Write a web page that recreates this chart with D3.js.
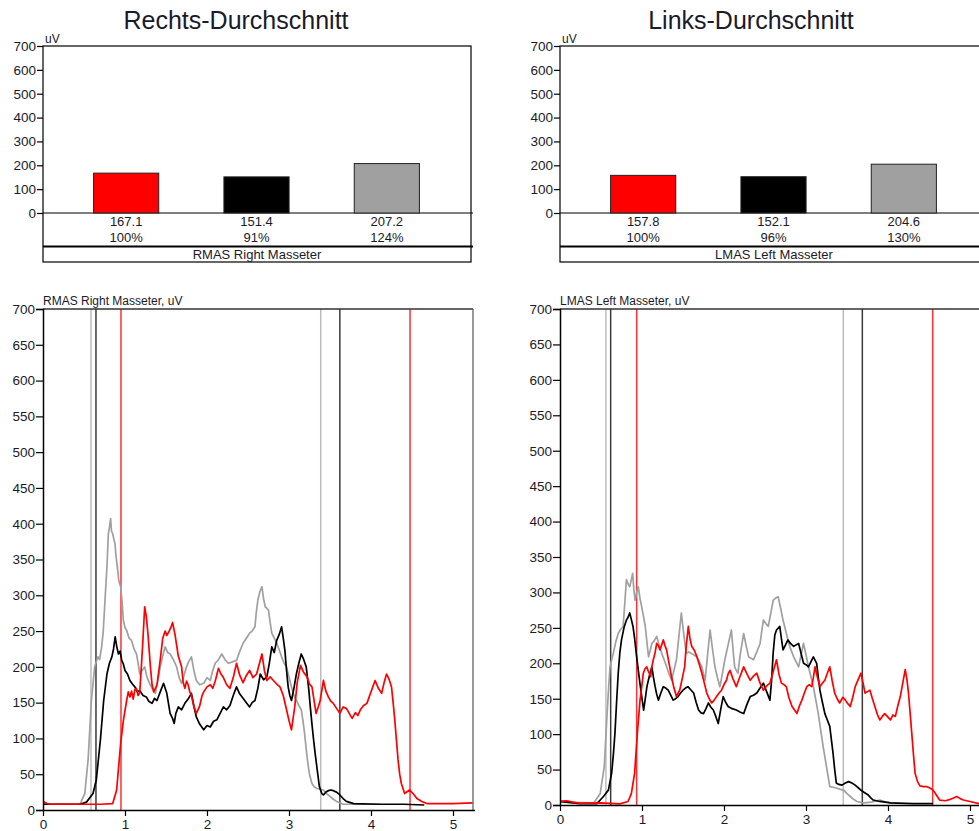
<!DOCTYPE html>
<html>
<head>
<meta charset="utf-8">
<script src="https://cdn.jsdelivr.net/npm/d3@7"></script>
<style>
  html, body { margin: 0; padding: 0; background: #fff; }
  svg { display: block; }
  text { font-family: "Liberation Sans", Arial, sans-serif; fill: #1a1a2a; }
</style>
</head>
<body>
<svg id="chart" width="979" height="831"></svg>
<script>
// ---------------- DATA ----------------
const barCategories = ["Rot", "Schwarz", "Grau"];
const rechtsBarValues = [167.1, 151.4, 207.2];
const rechtsBarPercents = ["100%", "91%", "124%"];
const linksBarValues = [157.8, 152.1, 204.6];
const linksBarPercents = ["100%", "96%", "130%"];
const barYTicks = [0, 100, 200, 300, 400, 500, 600, 700];
const lineYTicks = [0, 50, 100, 150, 200, 250, 300, 350, 400, 450, 500, 550, 600, 650, 700];
const lineXTicks = [0, 1, 2, 3, 4, 5];

// marker positions (s)
const rechtsMarkersGray = [0.585, 3.387];
const rechtsMarkersBlack = [0.646, 3.62];
const rechtsMarkersRed = [0.951, 4.476];
const linksMarkersGray = [0.56, 3.455];
const linksMarkersBlack = [0.618, 3.687];
const linksMarkersRed = [0.935, 4.545];

// traces [time s, uV]
const rechtsRed = [[0,12],[0.05,9],[0.1,8],[0.3,8],[0.5,8],[0.7,8],[0.85,9],[0.898,28],[0.947,93],[0.98,125],[1.02,153],[1.04,165],[1.06,158],[1.08,166],[1.10,155],[1.12,168],[1.14,170],[1.16,160],[1.18,164],[1.215,230],[1.24,284],[1.26,270],[1.28,246],[1.31,200],[1.33,175],[1.35,165],[1.37,170],[1.39,175],[1.43,210],[1.46,240],[1.49,250],[1.51,244],[1.53,248],[1.56,255],[1.58,262],[1.61,245],[1.65,215],[1.69,200],[1.71,178],[1.73,170],[1.75,180],[1.77,175],[1.79,165],[1.81,160],[1.84,145],[1.87,135],[1.89,140],[1.91,145],[1.94,160],[1.96,165],[2.0,172],[2.04,175],[2.07,170],[2.10,180],[2.14,198],[2.17,190],[2.20,185],[2.24,175],[2.28,170],[2.32,185],[2.36,205],[2.40,188],[2.44,178],[2.48,188],[2.52,195],[2.56,185],[2.605,190],[2.64,205],[2.67,218],[2.70,195],[2.73,181],[2.77,186],[2.81,181],[2.85,176],[2.89,172],[2.93,160],[2.97,140],[3.0,125],[3.03,112],[3.07,144],[3.10,178],[3.14,202],[3.18,192],[3.22,186],[3.25,176],[3.28,172],[3.31,150],[3.33,135],[3.36,145],[3.38,153],[3.42,181],[3.45,166],[3.48,158],[3.51,152],[3.54,149],[3.58,142],[3.62,135],[3.66,144],[3.70,142],[3.74,134],[3.77,128],[3.81,136],[3.84,132],[3.87,140],[3.91,146],[3.95,149],[4.0,165],[4.05,181],[4.09,170],[4.13,163],[4.16,178],[4.19,190],[4.22,183],[4.25,172],[4.27,150],[4.29,126],[4.31,98],[4.33,70],[4.35,50],[4.37,37],[4.41,23],[4.47,28],[4.52,22],[4.56,16],[4.62,12],[4.68,9],[4.8,9],[5.0,9],[5.24,10]];
const rechtsBlack = [[0,8],[0.45,8],[0.53,11],[0.61,23],[0.65,42],[0.70,98],[0.74,153],[0.78,190],[0.81,205],[0.84,214],[0.86,225],[0.88,242],[0.90,228],[0.92,218],[0.94,222],[0.96,209],[0.98,204],[1.0,195],[1.03,190],[1.06,181],[1.09,176],[1.12,172],[1.15,165],[1.18,167],[1.22,160],[1.26,158],[1.29,152],[1.33,149],[1.36,156],[1.39,153],[1.43,165],[1.47,177],[1.51,163],[1.55,135],[1.58,128],[1.60,121],[1.62,135],[1.65,144],[1.69,140],[1.73,149],[1.77,155],[1.81,163],[1.84,145],[1.87,130],[1.91,120],[1.96,112],[2.0,118],[2.04,116],[2.08,124],[2.12,126],[2.16,135],[2.20,144],[2.24,140],[2.28,146],[2.32,160],[2.36,172],[2.40,162],[2.44,156],[2.48,150],[2.52,144],[2.55,150],[2.585,153],[2.62,170],[2.65,190],[2.69,182],[2.73,186],[2.76,205],[2.79,228],[2.82,220],[2.85,237],[2.88,245],[2.91,256],[2.93,240],[2.95,223],[2.97,195],[2.99,172],[3.01,160],[3.03,153],[3.06,170],[3.09,190],[3.12,205],[3.15,218],[3.18,210],[3.21,200],[3.24,170],[3.26,144],[3.28,120],[3.30,98],[3.32,78],[3.34,60],[3.37,33],[3.40,23],[3.42,21],[3.45,25],[3.48,27],[3.51,28],[3.54,27],[3.58,25],[3.62,21],[3.66,16],[3.70,12],[3.79,9],[4.1,8],[4.4,8],[4.65,7]];
const rechtsGray = [[0,8],[0.45,8],[0.51,23],[0.55,70],[0.59,153],[0.63,200],[0.67,214],[0.69,210],[0.715,228],[0.735,250],[0.756,293],[0.78,340],[0.797,386],[0.81,395],[0.825,407],[0.835,390],[0.85,386],[0.865,378],[0.878,372],[0.89,355],[0.906,340],[0.925,320],[0.947,312],[0.965,290],[0.98,265],[1.0,255],[1.02,251],[1.05,240],[1.08,237],[1.11,225],[1.14,218],[1.16,205],[1.18,190],[1.21,195],[1.24,200],[1.27,185],[1.30,177],[1.33,170],[1.37,163],[1.40,180],[1.43,200],[1.46,215],[1.49,228],[1.52,220],[1.55,218],[1.59,210],[1.63,200],[1.66,185],[1.69,177],[1.72,188],[1.75,200],[1.78,208],[1.81,214],[1.84,195],[1.87,181],[1.91,175],[1.96,177],[2.0,185],[2.04,181],[2.07,195],[2.10,205],[2.14,210],[2.18,218],[2.22,210],[2.26,205],[2.31,207],[2.36,209],[2.40,222],[2.44,233],[2.48,240],[2.52,247],[2.55,250],[2.585,256],[2.60,275],[2.62,293],[2.645,305],[2.67,312],[2.69,295],[2.71,284],[2.73,282],[2.75,279],[2.77,262],[2.79,247],[2.82,240],[2.85,233],[2.88,224],[2.91,214],[2.94,205],[2.97,200],[3.0,186],[3.03,172],[3.06,160],[3.09,153],[3.12,146],[3.15,140],[3.17,125],[3.19,107],[3.21,85],[3.23,65],[3.25,50],[3.28,37],[3.31,32],[3.34,30],[3.38,29],[3.42,28],[3.46,23],[3.50,19],[3.54,15],[3.58,12],[3.62,10],[3.66,8],[4.11,8]];

const linksRed = [[0,5],[0.08,6],[0.16,4],[0.24,2.5],[0.49,3],[0.73,1.5],[0.83,5],[0.87,16],[0.91,45],[0.943,101],[0.976,148],[1.0,170],[1.016,186],[1.035,192],[1.057,195],[1.08,188],[1.106,181],[1.12,195],[1.138,205],[1.16,215],[1.179,228],[1.20,225],[1.22,219],[1.24,226],[1.26,233],[1.28,225],[1.30,219],[1.33,200],[1.36,181],[1.39,165],[1.42,153],[1.44,158],[1.46,162],[1.49,178],[1.52,195],[1.54,225],[1.565,252],[1.585,235],[1.606,224],[1.64,218],[1.67,209],[1.70,198],[1.73,186],[1.76,172],[1.79,158],[1.82,150],[1.85,144],[1.88,148],[1.91,153],[1.94,158],[1.97,162],[2.0,170],[2.03,176],[2.05,185],[2.073,190],[2.11,178],[2.15,167],[2.19,180],[2.24,195],[2.28,185],[2.32,176],[2.36,182],[2.40,186],[2.44,172],[2.48,162],[2.52,168],[2.56,172],[2.60,188],[2.64,205],[2.67,185],[2.70,172],[2.73,170],[2.76,167],[2.79,152],[2.83,139],[2.86,134],[2.89,129],[2.92,140],[2.95,148],[2.98,158],[3.01,167],[3.04,170],[3.07,167],[3.09,180],[3.11,195],[3.14,180],[3.17,167],[3.20,172],[3.23,176],[3.26,186],[3.29,195],[3.32,175],[3.35,158],[3.38,150],[3.41,144],[3.45,152],[3.48,148],[3.51,143],[3.54,139],[3.57,152],[3.60,167],[3.64,178],[3.67,186],[3.70,170],[3.72,158],[3.75,160],[3.78,162],[3.81,150],[3.84,139],[3.87,128],[3.90,120],[3.93,125],[3.96,129],[4.0,124],[4.03,120],[4.06,127],[4.09,125],[4.12,140],[4.15,153],[4.18,172],[4.21,191],[4.23,178],[4.25,158],[4.27,130],[4.29,101],[4.31,72],[4.33,45],[4.36,33],[4.39,27],[4.43,26],[4.47,26],[4.51,24],[4.55,21],[4.59,14],[4.63,7],[4.70,6],[4.76,8],[4.80,10],[4.84,12],[4.88,9],[4.92,7],[5.0,5],[5.11,2],[5.25,2]];
const linksBlack = [[0,5],[0.24,2],[0.45,2],[0.53,12],[0.59,21],[0.63,45],[0.65,70],[0.67,101],[0.69,145],[0.71,186],[0.73,215],[0.75,233],[0.78,250],[0.81,261],[0.83,265],[0.85,271],[0.87,262],[0.89,252],[0.91,235],[0.93,214],[0.955,190],[0.98,167],[1.0,150],[1.02,134],[1.04,150],[1.06,167],[1.09,182],[1.12,195],[1.14,180],[1.16,167],[1.18,156],[1.20,148],[1.23,158],[1.26,167],[1.29,165],[1.32,162],[1.35,155],[1.38,148],[1.41,150],[1.44,153],[1.47,158],[1.50,162],[1.53,165],[1.56,167],[1.60,162],[1.63,158],[1.66,145],[1.69,134],[1.72,130],[1.75,129],[1.78,136],[1.81,144],[1.84,138],[1.87,134],[1.90,125],[1.93,115],[1.96,135],[1.99,153],[2.02,145],[2.05,139],[2.10,136],[2.15,134],[2.20,131],[2.24,129],[2.28,142],[2.32,153],[2.36,155],[2.40,158],[2.44,165],[2.48,172],[2.52,160],[2.56,148],[2.58,175],[2.60,215],[2.62,240],[2.64,247],[2.68,252],[2.70,235],[2.72,219],[2.75,226],[2.78,233],[2.81,228],[2.85,224],[2.88,226],[2.91,228],[2.94,214],[2.97,200],[3.0,198],[3.03,195],[3.06,202],[3.09,209],[3.13,200],[3.15,180],[3.17,162],[3.20,145],[3.23,129],[3.26,120],[3.29,111],[3.31,92],[3.33,73],[3.35,50],[3.37,31],[3.40,29],[3.44,28],[3.48,31],[3.52,33],[3.56,31],[3.60,28],[3.64,24],[3.68,20],[3.72,17],[3.76,14],[3.79,10],[3.82,7],[3.90,5],[4.03,3],[4.3,2],[4.55,2]];
const linksGray = [[0,4],[0.41,3],[0.49,16],[0.54,54],[0.57,120],[0.59,160],[0.61,195],[0.63,205],[0.65,214],[0.68,230],[0.71,242],[0.74,248],[0.77,252],[0.79,285],[0.81,318],[0.83,312],[0.85,308],[0.87,318],[0.886,327],[0.90,305],[0.915,289],[0.935,300],[0.955,308],[0.975,292],[0.996,280],[1.02,265],[1.04,252],[1.06,230],[1.08,209],[1.10,218],[1.12,228],[1.15,232],[1.18,238],[1.21,225],[1.24,214],[1.27,205],[1.30,195],[1.33,185],[1.36,176],[1.39,190],[1.42,205],[1.45,238],[1.48,271],[1.51,240],[1.54,214],[1.57,216],[1.60,214],[1.63,212],[1.67,209],[1.70,202],[1.73,195],[1.75,185],[1.77,176],[1.80,212],[1.83,247],[1.86,220],[1.89,195],[1.92,180],[1.95,167],[1.98,185],[2.01,205],[2.05,226],[2.09,247],[2.11,220],[2.13,195],[2.15,190],[2.17,186],[2.20,214],[2.24,242],[2.27,225],[2.30,209],[2.33,207],[2.36,205],[2.40,216],[2.44,228],[2.46,245],[2.48,261],[2.51,256],[2.54,252],[2.57,270],[2.60,289],[2.63,292],[2.66,294],[2.69,278],[2.72,261],[2.75,247],[2.78,233],[2.81,221],[2.85,209],[2.88,202],[2.91,195],[2.94,212],[2.97,228],[3.0,212],[3.03,195],[3.06,181],[3.09,167],[3.12,148],[3.15,129],[3.18,105],[3.21,82],[3.23,68],[3.25,54],[3.27,40],[3.29,26],[3.33,25],[3.37,24],[3.42,22],[3.46,21],[3.50,16],[3.54,12],[3.58,8],[3.62,5],[3.70,3],[3.80,4],[3.90,7],[3.96,5],[4.03,3],[4.11,3]];

// ---------------- LAYOUT ----------------
const panels = [
  { dx: 0, title: "Rechts-Durchschnitt", titleX: 236, barValues: rechtsBarValues, barPercents: rechtsBarPercents,
    barLabel: "RMAS Right Masseter", lineLabel: "RMAS Right Masseter, uV",
    traces: [[rechtsGray, "#a0a0a0"], [rechtsBlack, "#000"], [rechtsRed, "#ff0000"]],
    markers: [[rechtsMarkersGray, "#bdbdbd"], [rechtsMarkersBlack, "#3a3a3a"], [rechtsMarkersRed, "#ff3030"]],
    lineBottom: 810 },
  { dx: 517, title: "Links-Durchschnitt", titleX: 751, barValues: linksBarValues, barPercents: linksBarPercents,
    barLabel: "LMAS Left Masseter", lineLabel: "LMAS Left Masseter, uV",
    traces: [[linksGray, "#a0a0a0"], [linksBlack, "#000"], [linksRed, "#ff0000"]],
    markers: [[linksMarkersGray, "#bdbdbd"], [linksMarkersBlack, "#3a3a3a"], [linksMarkersRed, "#ff3030"]],
    lineBottom: 805 }
];
const barColors = ["#ff0000", "#000000", "#a0a0a0"];

const svg = d3.select("#chart");

panels.forEach((p, pi) => {
  const L = 43 + p.dx, R = 471 + p.dx;
  const g = svg.append("g");

  // title
  g.append("text").attr("x", p.titleX).attr("y", 29).attr("text-anchor", "middle")
    .style("font-size", "25px").text(p.title);

  // ---- bar chart ----
  const by = d3.scaleLinear().domain([0, 700]).range([213, 46]);
  const bx = d3.scaleBand().domain(barCategories).range([61 + p.dx, 452 + p.dx])
    .paddingInner(0.5).paddingOuter(0.25);

  g.append("rect").attr("x", L).attr("y", 46).attr("width", R - L).attr("height", 216)
    .attr("fill", "none").attr("stroke", "#000").attr("stroke-width", 1.2);
  g.append("line").attr("x1", L).attr("x2", R + 2).attr("y1", 213).attr("y2", 213)
    .attr("stroke", "#000").attr("stroke-width", 1.2);
  g.append("line").attr("x1", L).attr("x2", R + 2).attr("y1", 246.5).attr("y2", 246.5)
    .attr("stroke", "#000").attr("stroke-width", 2);

  const byAxis = d3.axisLeft(by).tickValues(barYTicks).tickSize(6).tickPadding(1);
  const bya = g.append("g").attr("transform", `translate(${L},0)`).call(byAxis);
  bya.select(".domain").remove();
  bya.selectAll("line").attr("stroke", "#000").attr("stroke-width", 1.2);
  bya.selectAll("text").style("font-size", "13.5px").style("font-family", "Liberation Sans, Arial").attr("fill", "#1a1a2a");

  g.append("text").attr("x", L + 2).attr("y", 43).style("font-size", "12px").text("uV");

  g.selectAll(".bar").data(p.barValues).enter().append("rect")
    .attr("x", (d, i) => bx(barCategories[i]))
    .attr("width", bx.bandwidth())
    .attr("y", d => by(d))
    .attr("height", d => by(0) - by(d))
    .attr("fill", (d, i) => barColors[i])
    .attr("stroke", "#222").attr("stroke-width", 1);

  g.selectAll(".bv").data(p.barValues).enter().append("text")
    .attr("x", (d, i) => bx(barCategories[i]) + bx.bandwidth() / 2)
    .attr("y", 226).attr("text-anchor", "middle").style("font-size", "13px")
    .text(d => d.toFixed(1));
  g.selectAll(".bp").data(p.barPercents).enter().append("text")
    .attr("x", (d, i) => bx(barCategories[i]) + bx.bandwidth() / 2)
    .attr("y", 241.5).attr("text-anchor", "middle").style("font-size", "13px")
    .text(d => d);
  g.append("text").attr("x", (L + R) / 2).attr("y", 258.5).attr("text-anchor", "middle")
    .style("font-size", "13px").text(p.barLabel);

  // ---- line chart ----
  const top = 309, bottom = p.lineBottom;
  const LR = 473 + p.dx;
  const x = d3.scaleLinear().domain([0, 5.244]).range([L, LR]);
  const y = d3.scaleLinear().domain([0, 700]).range([bottom, top]);

  const clipId = "clip" + pi;
  svg.append("clipPath").attr("id", clipId).append("rect")
    .attr("x", L).attr("y", top).attr("width", LR - L).attr("height", bottom - top);

  // markers
  const mg = g.append("g").attr("clip-path", `url(#${clipId})`);
  p.markers.forEach(([arr, col]) => {
    mg.selectAll(null).data(arr).enter().append("line")
      .attr("x1", d => x(d)).attr("x2", d => x(d))
      .attr("y1", top).attr("y2", bottom)
      .attr("stroke", col).attr("stroke-width", 1.5);
  });

  // traces
  const line = d3.line().x(d => x(d[0])).y(d => y(d[1]));
  const tg = g.append("g").attr("clip-path", `url(#${clipId})`);
  p.traces.forEach(([arr, col]) => {
    tg.append("path").datum(arr).attr("d", line)
      .attr("fill", "none").attr("stroke", col).attr("stroke-width", 1.7)
      .attr("stroke-linejoin", "round");
  });

  // frame
  g.append("line").attr("x1", L).attr("x2", LR).attr("y1", top).attr("y2", top)
    .attr("stroke", "#333").attr("stroke-width", 1.5);
  g.append("line").attr("x1", LR).attr("x2", LR).attr("y1", top).attr("y2", bottom)
    .attr("stroke", "#555").attr("stroke-width", 1.2);

  const yAxis = d3.axisLeft(y).tickValues(lineYTicks).tickSize(7).tickPadding(1);
  const ya = g.append("g").attr("transform", `translate(${L},0)`).call(yAxis);
  ya.select(".domain").attr("stroke", "#000").attr("stroke-width", 1.5);
  ya.selectAll(".tick line").attr("stroke", "#000").attr("stroke-width", 1.2);
  ya.selectAll("text").style("font-size", "13.5px").style("font-family", "Liberation Sans, Arial").attr("fill", "#1a1a2a");

  const xAxis = d3.axisBottom(x).tickValues(lineXTicks).tickFormat(d3.format("d"))
    .tickSize(6).tickPadding(3).tickSizeOuter(0);
  const xa = g.append("g").attr("transform", `translate(0,${bottom})`).call(xAxis);
  xa.select(".domain").attr("stroke", "#000").attr("stroke-width", 1.5)
    .attr("d", `M${L},0.5H${LR + 2}`);
  xa.selectAll(".tick line").attr("stroke", "#000").attr("stroke-width", 1.2);
  xa.selectAll("text").style("font-size", "13.5px").style("font-family", "Liberation Sans, Arial").attr("fill", "#1a1a2a");

  g.append("text").attr("x", L).attr("y", 305).style("font-size", "12px").text(p.lineLabel);
});
</script>
</body>
</html>
